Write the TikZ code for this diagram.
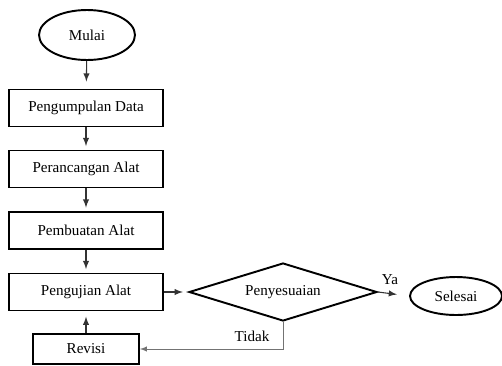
\documentclass[tikz,border=0pt]{standalone}
\usepackage{fontspec}
\setmainfont{Liberation Serif}
\usetikzlibrary{shapes.geometric}

\begin{document}
\begin{tikzpicture}[x=0.02cm, y=-0.02cm, >=latex,
    font=\fontsize{8.6}{10}\selectfont,
    langkah/.style={draw, line width=1.1pt, minimum width=3.08cm, minimum height=0.74cm, inner sep=0pt},
    ujung/.style={draw, ellipse, line width=1.1pt, inner sep=0pt},
    panah/.style={->, line width=0.6pt, draw=black!80}]
      \useasboundingbox (0,0) rectangle (502,365);

       % mulai
      \node[ujung, minimum width=1.92cm, minimum height=1.0cm] (mulai) at (87,35) {Mulai};

       % langkah
      \node[langkah] (data) at (86,108) {Pengumpulan Data};
      \node[langkah] (rancang) at (86,169) {Perancangan Alat};
      \node[langkah] (buat) at (86,230.5) {Pembuatan Alat};
      \node[langkah] (uji) at (86,292) {Pengujian Alat};
      \node[langkah, minimum width=2.12cm, minimum height=0.6cm] (revisi) at (86,349) {Revisi};

       % keputusan
      \node[draw, diamond, aspect=3.24, line width=1.1pt, inner sep=0pt, minimum width=3.76cm, minimum height=1.16cm]
        (sesuai) at (283,292) {Penyesuaian};

       % selesai
      \node[ujung, minimum width=1.84cm, minimum height=0.76cm] (selesai) at (456,296) {Selesai};

       % panah
      \draw[panah, shorten >=4pt] (mulai) -- (data);
      \draw[panah, shorten >=2pt] (data) -- (rancang);
      \draw[panah, shorten >=2pt] (rancang) -- (buat);
      \draw[panah, shorten >=2pt] (buat) -- (uji);
      \draw[panah, shorten >=3pt] (uji) -- (sesuai);
      \draw[panah, shorten >=3pt] (revisi) -- (uji);
      \draw[panah, shorten >=7pt] (sesuai.east) -- (selesai.west);
      \draw[panah, draw=black!55, line width=0.4pt] (sesuai.south) |- (revisi.east);

       % label
      \node (ya) at (390,280) {Ya};
      \node (tidak) at (252,336) {Tidak};
\end{tikzpicture}
\end{document}
